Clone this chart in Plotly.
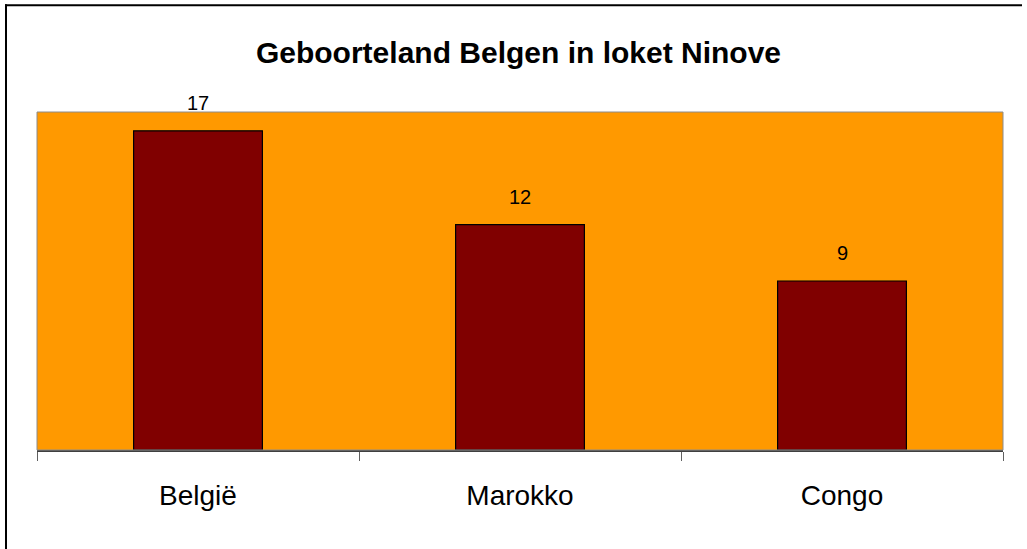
import plotly.graph_objects as go

categories = ["België", "Marokko", "Congo"]
values = [17, 12, 9]
title_text = "Geboorteland Belgen in loket Ninove"

W, H = 1027, 549
L, R, T, B = 37, 24, 112, 99
pw, ph = W - L - R, H - T - B

def px_x(px):
    return (px - L) / pw

def px_y(py):
    return (H - B - py) / ph

fig = go.Figure()
fig.add_trace(go.Bar(
    x=categories, y=values,
    marker=dict(color="#800000", line=dict(color="#000000", width=1.2)),
    hoverinfo="skip",
))

for c, v in zip(categories, values):
    fig.add_annotation(
        x=c, y=v, text=str(v), showarrow=False,
        xref="x", yref="y", yanchor="bottom", yshift=15,
        font=dict(family="Arial, Liberation Sans, sans-serif", size=20, color="#000000"),
    )

shapes = [
    # plot area border
    dict(type="rect", xref="paper", yref="paper", x0=0, y0=0, x1=1, y1=1,
         line=dict(color="#8c8c8c", width=1), layer="above"),
    # outer chart frame (top and left visible)
    dict(type="line", xref="paper", yref="paper", x0=px_x(5), x1=px_x(1022),
         y0=px_y(5.3), y1=px_y(5.3), line=dict(color="#000000", width=2)),
    dict(type="line", xref="paper", yref="paper", x0=px_x(6), x1=px_x(6),
         y0=px_y(4.3), y1=px_y(552), line=dict(color="#000000", width=2)),
]

fig.update_layout(
    width=W, height=H,
    margin=dict(l=L, r=R, t=T, b=B, pad=0),
    paper_bgcolor="#ffffff",
    plot_bgcolor="#FF9900",
    bargap=0.6,
    showlegend=False,
    shapes=shapes,
    title=dict(
        text="<b>" + title_text + "</b>",
        x=518.5 / W, xanchor="center",
        y=1 - 52 / H, yanchor="middle",
        font=dict(family="Arial, Liberation Sans, sans-serif", size=30, color="#000000"),
    ),
    xaxis=dict(
        type="category",
        showgrid=False,
        showline=True, linecolor="#404040", linewidth=2,
        ticks="outside", tickson="boundaries", ticklen=9, tickwidth=1, tickcolor="#606060",
        tickfont=dict(family="Arial, Liberation Sans, sans-serif", size=28, color="#000000"),
        ticklabelstandoff=19,
        zeroline=False,
    ),
    yaxis=dict(
        range=[0, 18], visible=False, showgrid=False, zeroline=False,
    ),
)

fig.write_html("out.html", config={"displayModeBar": False},
               post_script="document.body.style.margin='0';")
